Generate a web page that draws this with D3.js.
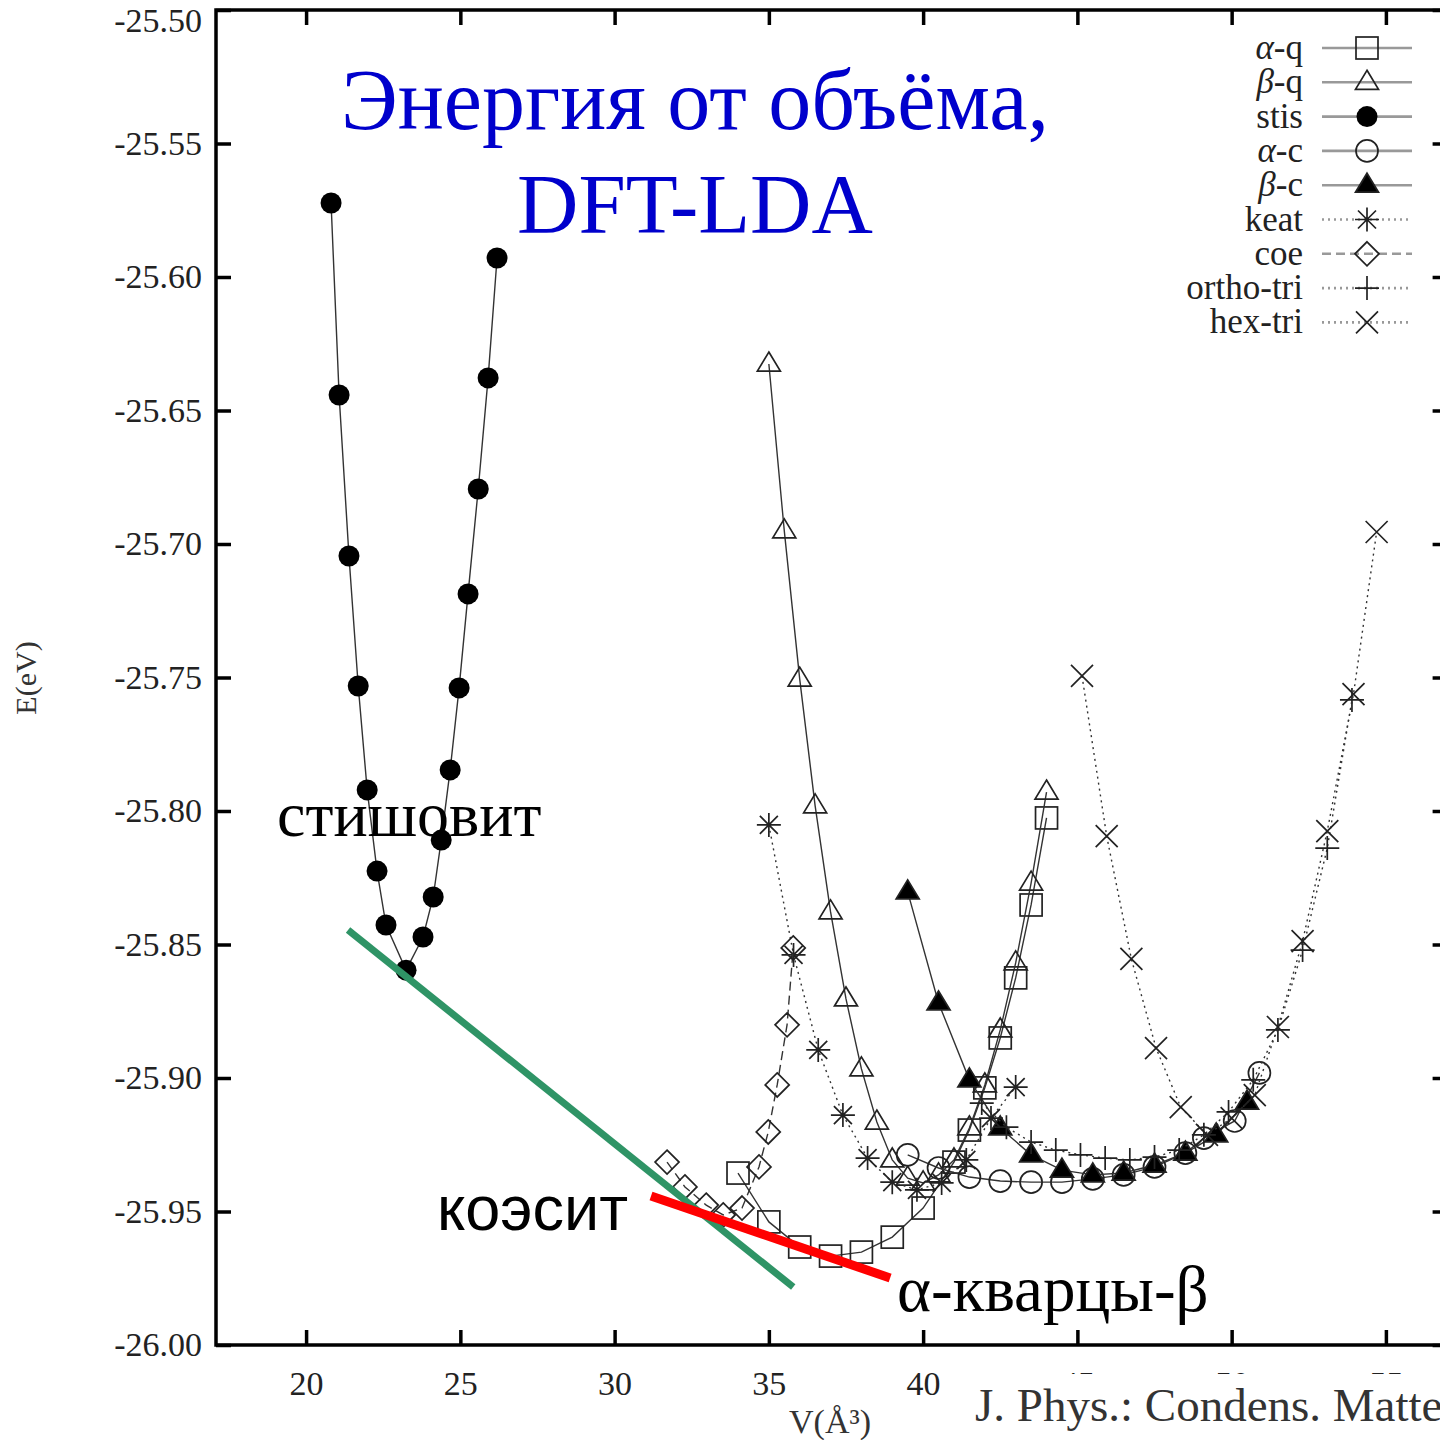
<!DOCTYPE html>
<html>
<head>
<meta charset="utf-8">
<script src="https://cdn.jsdelivr.net/npm/d3@7"></script>
<style>
  body { margin: 0; background: #fff; }
  text { font-family: "Liberation Serif", "Times New Roman", serif; }
</style>
</head>
<body>
<script>
const [w, h] = [1440, 1440];
const ink = '#222';

// ticks
const xTicks = [20, 25, 30, 35, 40, 45, 50, 55];
const yTicks = [-26.00, -25.95, -25.90, -25.85, -25.80, -25.75, -25.70, -25.65, -25.60, -25.55, -25.50];

// series: V (A^3) and E (eV)
const alphaQ_V = [34, 35, 36, 37, 38, 39, 40, 41, 41.5, 42, 42.5, 43, 43.5, 44];
const alphaQ_E = [-25.9356, -25.9539, -25.9633, -25.9667, -25.9652, -25.9596, -25.9487, -25.9315, -25.9195, -25.9037, -25.8850, -25.8625, -25.8352, -25.8026];

const betaQ_V = [35, 35.5, 36, 36.5, 37, 37.5, 38, 38.5, 39, 39.5, 40, 40.5, 41, 41.5, 42, 42.5, 43, 43.5, 44];
const betaQ_E = [-25.6326, -25.6951, -25.7506, -25.7981, -25.8378, -25.8704, -25.8966, -25.9165, -25.9307, -25.9375, -25.9393, -25.9363, -25.9307, -25.9187, -25.9026, -25.8820, -25.8569, -25.8270, -25.7929];

const stis_V = [20.81, 21.07, 21.39, 21.69, 21.98, 22.30, 22.59, 23.24, 23.79, 24.12, 24.38, 24.67, 24.96, 25.25, 25.58, 25.90, 26.19];
const stis_E = [-25.5723, -25.6442, -25.7045, -25.7532, -25.7921, -25.8225, -25.8427, -25.8596, -25.8472, -25.8322, -25.8109, -25.7846, -25.7539, -25.7187, -25.6794, -25.6378, -25.5929];

const alphaC_V = [39.5, 40.5, 41.5, 42.5, 43.5, 44.5, 45.5, 46.5, 47.5, 48.5, 49.1, 50.1, 50.9];
const alphaC_E = [-25.9288, -25.9337, -25.9371, -25.9386, -25.9390, -25.9390, -25.9378, -25.9363, -25.9333, -25.9281, -25.9225, -25.9161, -25.8981];

const betaC_V = [39.5, 40.5, 41.5, 42.5, 43.5, 44.5, 45.5, 46.5, 47.5, 48.5, 49.5, 50.5];
const betaC_E = [-25.8303, -25.8719, -25.9007, -25.9187, -25.9288, -25.9345, -25.9363, -25.9356, -25.9326, -25.9281, -25.9213, -25.9090];

const keat_V = [35.0, 35.8, 36.6, 37.4, 38.2, 39.0, 39.8, 40.6, 41.4, 42.2, 43.0];
const keat_E = [-25.8052, -25.8539, -25.8895, -25.9139, -25.9300, -25.9390, -25.9419, -25.9393, -25.9307, -25.9150, -25.9034];

const coe_V = [31.70, 32.28, 32.97, 33.52, 34.13, 34.68, 34.98, 35.27, 35.59, 35.79];
const coe_E = [-25.9315, -25.9408, -25.9476, -25.9513, -25.9487, -25.9333, -25.9202, -25.9026, -25.8801, -25.8513];

const orthoTri_V = [41.9, 42.7, 43.5, 44.3, 45.1, 45.9, 46.7, 47.5, 48.3, 49.1, 49.9, 50.7, 51.5, 52.3, 53.1, 53.9];
const orthoTri_E = [-25.9094, -25.9184, -25.9240, -25.9270, -25.9288, -25.9300, -25.9307, -25.9296, -25.9270, -25.9213, -25.9127, -25.9007, -25.8820, -25.8521, -25.8139, -25.7584];

const hexTri_V = [45.15, 45.95, 46.75, 47.55, 48.35, 49.2, 50.0, 50.75, 51.5, 52.3, 53.1, 53.95, 54.7];
const hexTri_E = [-25.7494, -25.8094, -25.8554, -25.8888, -25.9109, -25.9213, -25.9150, -25.9064, -25.8809, -25.8487, -25.8075, -25.7562, -25.6955];

// hand-drawn tangent lines (V, E of both ends)
const green_V = [21.36, 35.79];
const green_E = [-25.8446, -25.9783];
const red_V = [31.18, 38.93];
const red_E = [-25.9442, -25.9749];

const series = [
  { label: 'α-q', V: alphaQ_V, E: alphaQ_E, marker: 'square', dash: null },
  { label: 'β-q', V: betaQ_V, E: betaQ_E, marker: 'tri', dash: null },
  { label: 'stis', V: stis_V, E: stis_E, marker: 'dot', dash: null },
  { label: 'α-c', V: alphaC_V, E: alphaC_E, marker: 'circle', dash: null },
  { label: 'β-c', V: betaC_V, E: betaC_E, marker: 'triFill', dash: null },
  { label: 'keat', V: keat_V, E: keat_E, marker: 'star', dash: '2,4' },
  { label: 'coe', V: coe_V, E: coe_E, marker: 'diamond', dash: '9,5' },
  { label: 'ortho-tri', V: orthoTri_V, E: orthoTri_E, marker: 'plus', dash: '2,4' },
  { label: 'hex-tri', V: hexTri_V, E: hexTri_E, marker: 'cross', dash: '2,4' }
];

const [pLeft, pRight, pTop, pBottom] = [216, 1447.6, 10, 1345];
const x = d3.scaleLinear().domain([17.08, 57]).range([pLeft, pRight]);
const y = d3.scaleLinear().domain([-26, -25.5]).range([pBottom, pTop]);

const svg = d3.select('body').append('svg')
  .attr('width', w).attr('height', h)
  .style('display', 'block');

let drawMarker = (g, type, px, py) => {
  const s = g.append('g').attr('transform', `translate(${px},${py})`)
    .attr('stroke', ink).attr('stroke-width', 1.7).attr('fill', 'none');
  if (type === 'square') {
    s.append('rect').attr('x', -11).attr('y', -11).attr('width', 22).attr('height', 22);
  } else if (type === 'tri' || type === 'triFill') {
    s.append('path').attr('d', 'M0,-12L11.5,7L-11.5,7Z')
      .attr('fill', type === 'triFill' ? '#000' : 'none');
  } else if (type === 'dot') {
    s.append('circle').attr('r', 10.5).attr('fill', '#000').attr('stroke', 'none');
  } else if (type === 'circle') {
    s.append('circle').attr('r', 11);
  } else if (type === 'diamond') {
    s.append('path').attr('d', 'M0,-12L12,0L0,12L-12,0Z');
  } else if (type === 'plus') {
    s.append('path').attr('d', 'M-12,0H12M0,-12V12');
  } else if (type === 'cross') {
    s.append('path').attr('d', 'M-11,-11L11,11M-11,11L11,-11');
  } else if (type === 'star') {
    s.append('path').attr('d', 'M-12,0H12M0,-12V12M-9,-9L9,9M-9,9L9,-9');
  }
};

const line = d3.line().x(d => x(d[0])).y(d => y(d[1]));

// curves
const plot = svg.append('g');
series.forEach(s => {
  const pts = s.V.map((v, i) => [v, s.E[i]]);
  plot.append('path')
    .attr('d', line(pts))
    .attr('fill', 'none')
    .attr('stroke', '#333')
    .attr('stroke-width', 1.4)
    .attr('stroke-dasharray', s.dash);
  pts.forEach(p => drawMarker(plot, s.marker, x(p[0]), y(p[1])));
});

// frame and axes
const axisFmt = d => d.toFixed(2);
const gx = svg.append('g').attr('transform', `translate(0,${pBottom})`)
  .call(d3.axisBottom(x).tickValues(xTicks).tickSize(-15).tickPadding(26).tickFormat(d => d));
const gy = svg.append('g').attr('transform', `translate(${pLeft},0)`)
  .call(d3.axisLeft(y).tickValues(yTicks).tickSize(-15).tickPadding(14).tickFormat(axisFmt));
const gt = svg.append('g').attr('transform', `translate(0,${pTop})`)
  .call(d3.axisTop(x).tickValues(xTicks).tickSize(-15).tickFormat(''));
const gr = svg.append('g').attr('transform', `translate(${pRight},0)`)
  .call(d3.axisRight(y).tickValues(yTicks).tickSize(-15).tickFormat(''));
[gx, gy, gt, gr].forEach(g => {
  g.select('.domain').remove();
  g.selectAll('.tick line').attr('stroke', '#000').attr('stroke-width', 3.5);
  g.selectAll('.tick text')
    .attr('fill', '#222')
    .style('font-family', '"Liberation Serif", serif')
    .style('font-size', '34px');
});
// the top label sits a little lower in the original so it is not clipped
gy.selectAll('.tick text').filter(d => d === -25.5).attr('dy', '0.62em');

svg.append('rect')
  .attr('x', pLeft).attr('y', pTop)
  .attr('width', pRight - pLeft).attr('height', pBottom - pTop)
  .attr('fill', 'none').attr('stroke', '#000').attr('stroke-width', 3.5);

// axis titles
svg.append('text')
  .attr('x', 830).attr('y', 1433)
  .attr('text-anchor', 'middle')
  .attr('font-size', 34).attr('fill', '#333')
  .text('V(Å³)');
svg.append('text')
  .attr('transform', 'translate(36,678) rotate(-90)')
  .attr('text-anchor', 'middle')
  .attr('font-size', 30).attr('fill', '#333')
  .text('E(eV)');

// legend
const legend = svg.append('g');
series.forEach((s, i) => {
  const ly = 48 + i * 34.3;
  const t = legend.append('text')
    .attr('x', 1303).attr('y', ly + 11)
    .attr('text-anchor', 'end')
    .attr('font-size', 35).attr('fill', '#222');
  if (s.label[0] === 'α' || s.label[0] === 'β') {
    t.append('tspan').attr('font-style', 'italic').text(s.label[0]);
    t.append('tspan').text(s.label.slice(1));
  } else {
    t.text(s.label);
  }
  legend.append('line')
    .attr('x1', 1322).attr('x2', 1412).attr('y1', ly).attr('y2', ly)
    .attr('stroke', '#999').attr('stroke-width', 2.6)
    .attr('stroke-dasharray', s.dash);
  drawMarker(legend, s.marker, 1367, ly);
});

// annotations
const notes = svg.append('g');
notes.append('line')
  .attr('x1', x(green_V[0])).attr('y1', y(green_E[0]))
  .attr('x2', x(green_V[1])).attr('y2', y(green_E[1]))
  .attr('stroke', '#2f9466').attr('stroke-width', 7);
notes.append('line')
  .attr('x1', x(red_V[0])).attr('y1', y(red_E[0]))
  .attr('x2', x(red_V[1])).attr('y2', y(red_E[1]))
  .attr('stroke', '#ff0000').attr('stroke-width', 9);

notes.append('text')
  .attr('x', 695).attr('y', 129)
  .attr('text-anchor', 'middle')
  .attr('font-size', 86).attr('fill', '#0000cc')
  .text('Энергия от объёма,');
notes.append('text')
  .attr('x', 695).attr('y', 233)
  .attr('text-anchor', 'middle')
  .attr('font-size', 85).attr('fill', '#0000cc')
  .text('DFT-LDA');

notes.append('text')
  .attr('x', 277).attr('y', 836)
  .attr('font-size', 64).attr('fill', '#000')
  .text('стишовит');
notes.append('text')
  .attr('x', 437).attr('y', 1230)
  .style('font-family', '"Liberation Sans", Arial, sans-serif')
  .attr('font-size', 63).attr('fill', '#000')
  .text('коэсит');
notes.append('text')
  .attr('x', 897).attr('y', 1311)
  .attr('font-size', 65).attr('fill', '#000')
  .text('α-кварцы-β');

// journal credit pasted over the right tick labels
svg.append('rect')
  .attr('x', 958).attr('y', 1374)
  .attr('width', 500).attr('height', 70)
  .attr('fill', '#fff');
svg.append('text')
  .attr('x', 975).attr('y', 1421)
  .attr('font-size', 47).attr('fill', '#333')
  .text('J. Phys.: Condens. Matter');
</script>
</body>
</html>
